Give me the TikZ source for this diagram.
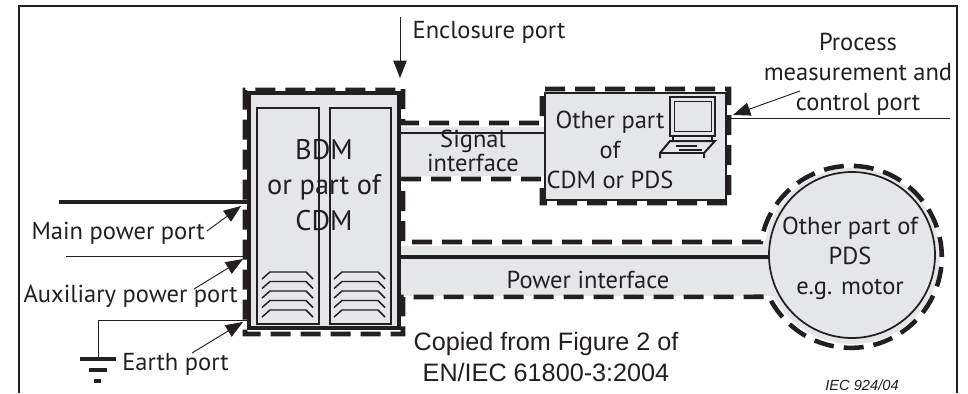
\documentclass[tikz,border=0pt]{standalone}
\usepackage{fontspec}
\setmainfont{PT Sans}
\newfontfamily\arialf{Liberation Sans}
\usetikzlibrary{arrows.meta}
\definecolor{pane}{RGB}{229,230,233}
\definecolor{ink}{RGB}{35,31,32}
\tikzset{
  lbl/.style={inner sep=0pt,text=ink,font=\fontsize{18.4}{22.5}\selectfont,align=center},
  big/.style={inner sep=0pt,text=ink,font=\fontsize{21.3}{26.5}\selectfont,align=center},
  cop/.style={inner sep=0pt,text=ink,font=\arialf\fontsize{18.9}{23.2}\selectfont,align=center},
  dashline/.style={draw=ink,line width=3.4pt,dash pattern=on 15pt off 7.5pt},
  solidl/.style={draw=ink,line width=1.3pt},
  thinl/.style={draw=ink,line width=0.6pt},
  ptr/.style={draw=ink,line width=0.7pt,-{Triangle[length=13pt,width=10pt]}},
  louvre/.style={draw=ink,line width=1.1pt},
}
\newcommand{\louvres}[1]{%
  \foreach \yy in {0,9.5,19,28.5,38}{
    \draw[louvre] (262+#1,279+\yy) -- (270+#1,272+\yy) -- (306+#1,272+\yy) -- (313+#1,279+\yy);
  }}
\begin{document}
\begin{tikzpicture}[x=0.75pt,y=-0.75pt]
\useasboundingbox (0,0) rectangle (968,393);
% frame
\draw[draw=ink,line width=1.6pt] (19,393) -- (19,6) -- (957,6) -- (957,393);
% fills
\fill[pane] (399,127) rectangle (548,176);
\fill[pane] (399,246) rectangle (780,296);
\fill[pane] (852,256) circle (88);
% dashed outlines
\draw[dashline] (403,89) -- (403,123) -- (542,123) -- (542,89) -- (729,89) -- (729,203) -- (542,203) -- (542,179) -- (403,179) -- (403,242) -- (761,242) arc[start angle=189.4,end angle=514,radius=91] -- (403,297) -- (403,334) -- (245,334) -- (245,90) -- (403,90);
% interfaces
\node[draw=ink,fill=pane,line width=1.1pt,minimum width=136pt,minimum height=80pt,inner sep=0pt] (other) at (635.5,146.5) {};
\node[draw=ink,fill=pane,line width=1.3pt,circle,minimum size=124.5pt,inner sep=0pt] (motor) at (852,255) {};
% BDM
\node[draw=ink,fill=pane,line width=2.8pt,minimum width=112pt,minimum height=176pt,inner sep=0pt] (bdm) at (324,210.5) {};
\draw[solidl] (bdm.east |- 0,133) -- (other.west |- 0,133);
\draw[draw=ink,line width=3.2pt] (bdm.east |- 0,257) -- (motor.west |- 0,257);
\draw[solidl] (257,108) rectangle (319,324);
\draw[solidl] (330,108) rectangle (391,324);
\louvres{0}
\louvres{72}
\node[big] (bdmt) at (324,185) {BDM\\or part of\\CDM};
% lines
\coordinate (mainend) at (59,202);
\coordinate (auxend) at (66,256);
\coordinate (procend) at (950,118);
\coordinate (earthj) at (98,320);
\coordinate (earthb) at (98,358);
\draw[draw=ink,line width=3.6pt] (mainend) -- (bdm.west |- mainend);
\draw[thinl] (auxend) -- (bdm.west |- auxend);
\draw[thinl] (bdm.west |- earthj) -- (earthj) -- (earthb);
\draw[thinl] (other.east |- procend) -- (procend);
% earth
\draw[draw=ink,line width=3.6pt] (80,359) -- (116,359);
\draw[draw=ink,line width=3.6pt] (89,370) -- (107,370);
\draw[draw=ink,line width=3.6pt] (94,381) -- (101,381);
% computer
\draw[draw=ink,line width=1.5pt] (670,97) rectangle (715,136);
\draw[thinl] (674,101) rectangle (711,131);
\draw[draw=ink,line width=1.5pt] (660,158) -- (660,153) -- (670,141) -- (715,141) -- (704,153) -- (704,158);
\draw[draw=ink,line width=1.5pt] (660,153) -- (704,153);
\draw[draw=ink,line width=1.2pt] (676,146) -- (697,146);
\draw[draw=ink,line width=1.2pt] (679,150) -- (702,150);
\draw[draw=ink,line width=1.2pt] (673,136) -- (673,141);
\draw[draw=ink,line width=1.2pt] (712,136) -- (712,141);
% labels
\node[lbl] (encl) at (489,32) {Enclosure port};
\node[lbl] (proc) at (858,74) {Process\\measurement and\\control port};
\node[lbl,font=\fontsize{18.4}{17.5}\selectfont] (sig) at (473,151) {Signal\\interface};
\node[lbl] (oth) at (610,150) {Other part\\of\\CDM or PDS};
\node[lbl] (mot) at (850,258) {Other part of\\PDS\\e.g. motor};
\node[lbl] (pow) at (588,280) {Power interface};
\node[lbl,anchor=east] (mainl) at (205,233) {Main power port};
\node[lbl,anchor=east] (auxl) at (238,296) {Auxiliary power port};
\node[lbl,anchor=west] (earl) at (122,364) {Earth port};
\node[cop] (copy) at (546,357) {Copied from Figure 2 of\\EN/IEC 61800-3:2004};
\node[inner sep=0pt,text=ink,font=\arialf\itshape\fontsize{11}{12}\selectfont] (iec) at (862,385) {IEC 924/04};
% arrows
\coordinate (t1) at (241,206); \coordinate (t2) at (243,259); \coordinate (t3) at (243,322);
\coordinate (t4) at (400,78); \coordinate (t5) at (733,115);
\coordinate (s1) at (207,231); \coordinate (s2) at (194,289); \coordinate (s3) at (192,353);
\coordinate (s4) at (400,17); \coordinate (s5) at (800,91);
\draw[ptr] (s1) -- (t1);
\draw[ptr] (s2) -- (t2);
\draw[ptr] (s3) -- (t3);
\draw[ptr] (s4) -- (t4);
\draw[ptr] (s5) -- (t5);
\end{tikzpicture}
\end{document}
